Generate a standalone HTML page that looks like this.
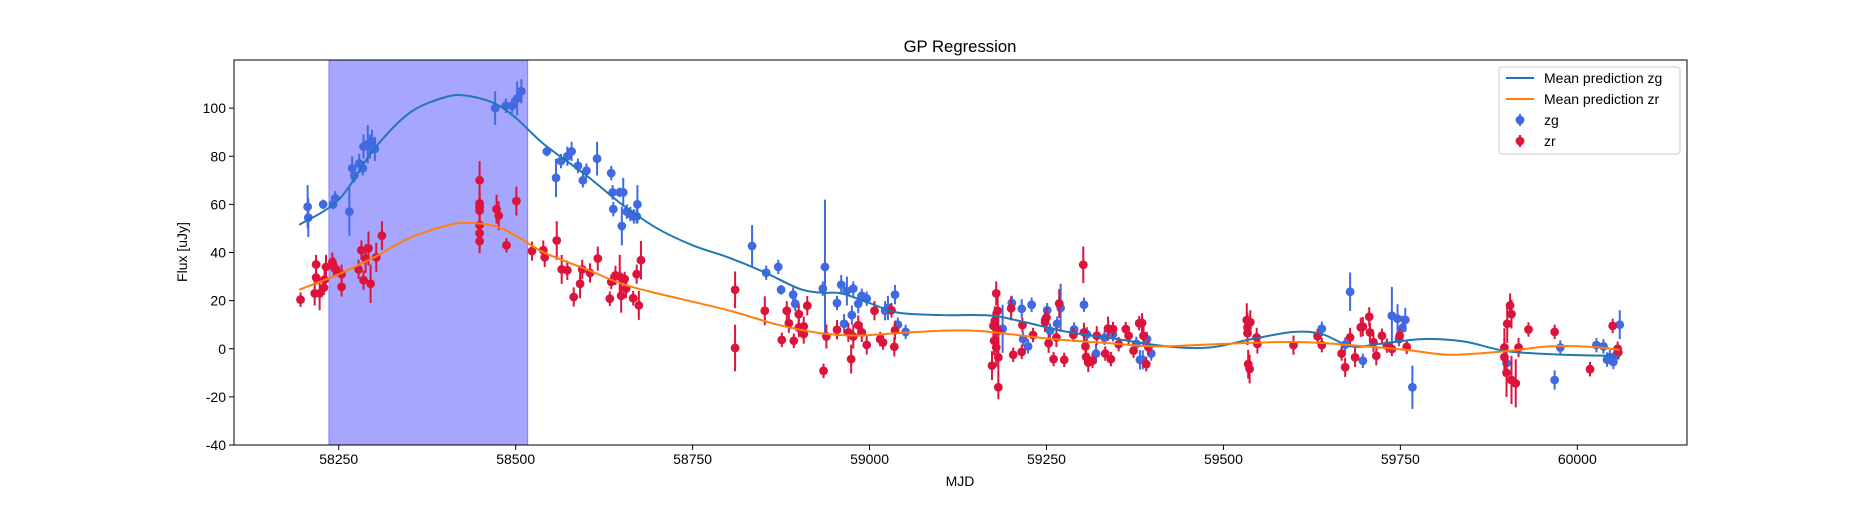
<!DOCTYPE html>
<html><head><meta charset="utf-8"><style>
html,body{margin:0;padding:0;background:#fff;}
svg text{font-family:"Liberation Sans","DejaVu Sans",sans-serif;}
</style></head><body>
<svg id="chart" width="1875" height="500" xmlns="http://www.w3.org/2000/svg"></svg>
<script>
// ---- data ----
const xTicks=[58250,58500,58750,59000,59250,59500,59750,60000];
const yTicks=[-40,-20,0,20,40,60,80,100];
const spanRange=[58236,58517];
const zgMjd=[58206,58207,58228,58242,58245,58265,58269,58272,58279,58284,58285,58291,58294,58297,58301,58471,58486,58495,58502,58508,58544,58557,58564,58573,58579,58588,58595,58600,58615,58635,58637,58638,58647,58650,58652,58657,58662,58667,58671,58672,
58834,58854,58871,58875,58892,58895,58937,58934,58954,58960,58964,58968,58975,58977,58984,58989,58996,59022,59026,59036,59040,59051,
59188,59201,59215,59229,59217,59224,59251,59248,59255,59270,59265,59289,59303,59307,59320,59332,59344,59377,59382,59386,59398,59392,
59639,59679,59672,59697,59738,59746,59753,59757,59748,59767,59900,59968,59976,60027,60037,60042,60046,60051,60055,60060];
const zgFlux=[59,54.5,60,60,62.5,57,75,72,77,75,84,85,84,86,83,100,101,101,104,107,82,71,78,80,82,76,70,74,79,73,65,58,65,51,65,57,56,55,55,60,
42.7,31.6,34,24.5,22.5,18.7,34,25,19,26.6,10.4,24,14,25,18.7,22,20.8,15.8,17,22.5,10,7,
8.3,19,16.6,18.3,4,1,16,12,7.5,17,10.4,8,18.3,6,-2,4.6,6,2,-4.6,-4.6,-2,4,
8.3,23.7,1.7,-5,13.7,12.5,8.7,12,4,-16,-6,-13,0.5,1.5,1,-4.5,-3.5,-5.5,-2.5,10];
const zgErr=[9,8,2,2,3,10,5,3,4,3,5,8,5,5,5,7,3,3,7,5,2,8,3,4,4,3,3,3,7,3,3,3,2,8,6,3,3,3,3,8,
8.7,3,3,2,3,3,28,3,3,4,4,6,4,3,4,3,3,4,5,4,3,3,
10,3,4,3,3,3,3,4,3,10,3,3,3,3,4,3,3,3,4,4,3,3,
3,8,3,3,12,6,5,5,3,9,4,4,3,3,3,3,3,3,3,6];
const zrMjd=[58196,58218,58218,58216,58223,58229,58230,58232,58241,58243,58246,58254,58254,58278,58282,58285,58288,58292,58295,58303,58311,
58449,58449,58449,58449,58449,58449,58449,58473,58476,58487,58501,58523,58539,58541,58558,58565,58573,58582,58591,58594,58605,58616,58633,58635,58641,58647,58649,58654,58656,58666,58671,58674,58677,
58810,58810,58852,58883,58886,58876,58893,58900,58900,58907,58912,58907,58935,58939,58954,58970,58974,58977,58984,58989,58996,59007,59015,59019,59031,59036,59035,
59179,59181,59177,59175,59182,59176,59179,59173,59182,59182,59200,59203,59216,59215,59231,59248,59250,59253,59260,59264,59268,59275,59288,59302,59303,59305,59306,59309,59315,59321,59333,59337,59341,59344,59352,59362,59366,59373,59381,
59385,59387,59394,59391,59533,59538,59534,59534,59535,59537,59547,59548,59599,59633,59639,59667,59672,59679,59686,59694,59697,59706,59707,59712,59716,59724,59731,59738,59749,59759,
59897,59897,59900,59901,59905,59907,59907,59913,59917,59931,59968,60018,60050,60057,60058];
const zrFlux=[20.4,35,29.6,23,23,25.4,28.7,34,36,34,33,31,25.7,33,41,28.5,37.5,41.7,27,38,47,
70,60.4,59,57.4,51.4,48,44.7,58,55.3,43,61.4,40.6,41,38,45,33,32.6,21.5,27,33,31.5,37.5,20.8,27.8,30.5,30,22,29,25,21,31,18,36.8,
24.5,0.3,15.8,15.8,10.6,3.7,3.3,14.4,8.8,6.1,17.9,9.3,-9.2,5.1,7.9,6.8,-4.3,5.1,9.8,6.8,1.6,15.8,4,2.6,16,7.7,0.8,
23,15.8,11.6,9.5,7.5,3.3,0.5,-7,-3.6,-16,16.8,-2.5,9.8,-1.3,5.7,11,13,2.3,-4.3,4.7,18.8,-4.6,5.8,34.9,6.8,1,-3.4,-5.7,-5,5.4,-2,8.4,-4.3,8.2,1.9,8.2,5.4,-0.8,10.6,
10.7,5.4,0.6,-6.4,11.9,11,8.9,6.5,-6.4,-8.4,4.7,2,1.5,5.2,1.5,-2,-7.7,4.7,-3.6,8.9,9.2,13.3,6.8,2.7,-2.9,5.4,1.3,-0.1,5.4,0.8,
-3.5,0.5,-10,10.4,18,14.4,-13,-14.4,0.5,8,7,-8.5,9.5,0,-1.5];
const zrErr=[3,4,3,5,7,3,4,5,4,4,3,4,4,4,4,4,6,7,8,6,6,
8,5,5,5,7,6,5,6,6,3,6,4,4,4,8,6,4,4,6,4,4,5,3,3,4,9,7,3,4,3,4,6,8,
7.6,9.7,6,4,4,3,3,4,4,4,4,4,3,5,4,4,6,5,4,4,4,4,3,3,3,4,4,
5,7,6,6,8,6,8,6,8,5,5,3,3,3,3,4,4,4,3,4,6,3,3,7.6,4,3,3,4,3,4,3,5,3,3,3,3,4,3,3,
4,4,3,3,7,5,6,5,6,6,4,4,4,3,3,3,4,4,4,4,4,4,4,4,4,3,3,3,3,3,
8,8,10,8,5,6,10,10,4,3,3,3,3,3,3];
const zgCurveX=[58194,58250,58300,58350,58400,58430,58470,58500,58540,58600,58650,58700,58750,58800,58850,58900,58930,58960,59000,59040,59100,59150,59180,59220,59280,59350,59420,59480,59540,59600,59640,59680,59720,59780,59840,59900,59980,60060];
const zgCurveY=[51.5,62,83,98,104.5,105.2,102,96,85,72,60,50,43,38,32,25,23.3,23,19,15,14,14,13.5,11,7,4,1,0.5,4,7,6,1,2,4,3,-1,-2.5,-3];
const zrCurveX=[58194,58250,58300,58350,58400,58430,58470,58500,58540,58600,58650,58700,58800,58870,58930,58980,59040,59100,59150,59200,59260,59330,59400,59460,59540,59600,59650,59700,59760,59820,59900,59960,60020,60060];
const zrCurveY=[24.5,31,38,46,51,52.3,51,47,40,33,27,23,16,10,6.5,5.5,6.5,7.5,7.5,6,4,2.5,1,1.5,2.5,2.8,2.2,1,-0.5,-2.5,-1,1,0.8,-0.5];

// ---- axes ----
const L=234,R=1687,T=60,B=445;
const X0=58102,X1=60155,Y0=-40,Y1=120;
const sx=v=>L+(v-X0)/(X1-X0)*(R-L);
const sy=v=>B-(v-Y0)/(Y1-Y0)*(B-T);
const svg=document.getElementById('chart');
const NS='http://www.w3.org/2000/svg';
function mk(tag,attrs,parent){const e=document.createElementNS(NS,tag);for(const k in attrs)e.setAttribute(k,attrs[k]);(parent||svg).appendChild(e);return e;}

const clip=mk('clipPath',{id:'pc'});mk('rect',{x:L,y:T,width:R-L,height:B-T},clip);

const span=mk('rect',{x:sx(spanRange[0]),y:T,width:sx(spanRange[1])-sx(spanRange[0]),height:B-T,fill:'rgba(0,0,255,0.35)',stroke:'rgba(0,0,255,0.35)'});



function pathFrom(xs,ys){let d='';for(let i=0;i<xs.length;i++){const p=[sx(xs[i]),sy(ys[i])];
 if(i===0){d+='M'+p[0]+','+p[1];continue;}
 const p0=[sx(xs[Math.max(i-2,0)]),sy(ys[Math.max(i-2,0)])],p1=[sx(xs[i-1]),sy(ys[i-1])],p3=[sx(xs[Math.min(i+1,xs.length-1)]),sy(ys[Math.min(i+1,xs.length-1)])];
 const c1=[p1[0]+(p[0]-p0[0])/6,p1[1]+(p[1]-p0[1])/6],c2=[p[0]-(p3[0]-p1[0])/6,p[1]-(p3[1]-p1[1])/6];
 d+='C'+c1.join(',')+' '+c2.join(',')+' '+p.join(',');}
 return d;}

const gPts=mk('g',{'clip-path':'url(#pc)'});



function series(xs,ys,es,color,name){
 const g=mk('g',{},gPts);
 
 
 for(let i=0;i<xs.length;i++){
  const x=sx(xs[i]);
  const l=mk('line',{x1:x,x2:x,y1:sy(ys[i]-es[i]),y2:sy(ys[i]+es[i]),stroke:color,'stroke-width':2},g);
  
  
  const c=mk('circle',{cx:x,cy:sy(ys[i]),r:4.4,fill:color},g);
  
  
 }}
series(zgMjd,zgFlux,zgErr,'#4169e1','zg');
series(zrMjd,zrFlux,zrErr,'#dc143c','zr');
const lg=mk('path',{d:pathFrom(zgCurveX,zgCurveY),fill:'none',stroke:'#1f77b4','stroke-width':2},gPts);


const lr=mk('path',{d:pathFrom(zrCurveX,zrCurveY),fill:'none',stroke:'#ff7f0e','stroke-width':2},gPts);



const frame=mk('rect',{x:L,y:T,width:R-L,height:B-T,fill:'none',stroke:'#000','stroke-width':1});



xTicks.forEach(v=>{const x=sx(v);
 mk('line',{x1:x,x2:x,y1:B,y2:B+5,stroke:'#000'});
 const t=mk('text',{x:x,y:B+19,'font-size':14,'text-anchor':'middle'});t.textContent=v;
 
 });
yTicks.forEach(v=>{const y=sy(v);
 mk('line',{x1:L-5,x2:L,y1:y,y2:y,stroke:'#000'});
 const t=mk('text',{x:L-8,y:y+5,'font-size':14,'text-anchor':'end'});t.textContent=v;
 
 });
</script>
<svg width="0" height="0"></svg>
<div style="position:absolute;left:0;top:0;width:1875px;height:500px;pointer-events:none;">
<svg width="1875" height="500" xmlns="http://www.w3.org/2000/svg" style="position:absolute;left:0;top:0">
<text x="960" y="52" font-size="16.7" text-anchor="middle" font-family="Liberation Sans, sans-serif">GP Regression</text>
<text x="960" y="486" font-size="14" text-anchor="middle" font-family="Liberation Sans, sans-serif">MJD</text>
<text x="0" y="0" font-size="14" text-anchor="middle" font-family="Liberation Sans, sans-serif" transform="translate(187,252) rotate(-90)">Flux [uJy]</text>
<g>
<rect x="1499" y="67" width="181" height="87" rx="3" fill="#fff" fill-opacity="0.8" stroke="#ccc"/>
<line x1="1506" x2="1534" y1="78" y2="78" stroke="#1f77b4" stroke-width="2"/>
<text x="1544" y="83" font-size="14" font-family="Liberation Sans, sans-serif">Mean prediction zg</text>
<line x1="1506" x2="1534" y1="99" y2="99" stroke="#ff7f0e" stroke-width="2"/>
<text x="1544" y="104" font-size="14" font-family="Liberation Sans, sans-serif">Mean prediction zr</text>
<line x1="1520" x2="1520" y1="114" y2="126" stroke="#4169e1" stroke-width="2"/><circle cx="1520" cy="120" r="4.4" fill="#4169e1"/>
<text x="1544" y="125" font-size="14" font-family="Liberation Sans, sans-serif">zg</text>
<line x1="1520" x2="1520" y1="135" y2="147" stroke="#dc143c" stroke-width="2"/><circle cx="1520" cy="141" r="4.4" fill="#dc143c"/>
<text x="1544" y="146" font-size="14" font-family="Liberation Sans, sans-serif">zr</text>
</g>
</svg></div>
</body></html>
